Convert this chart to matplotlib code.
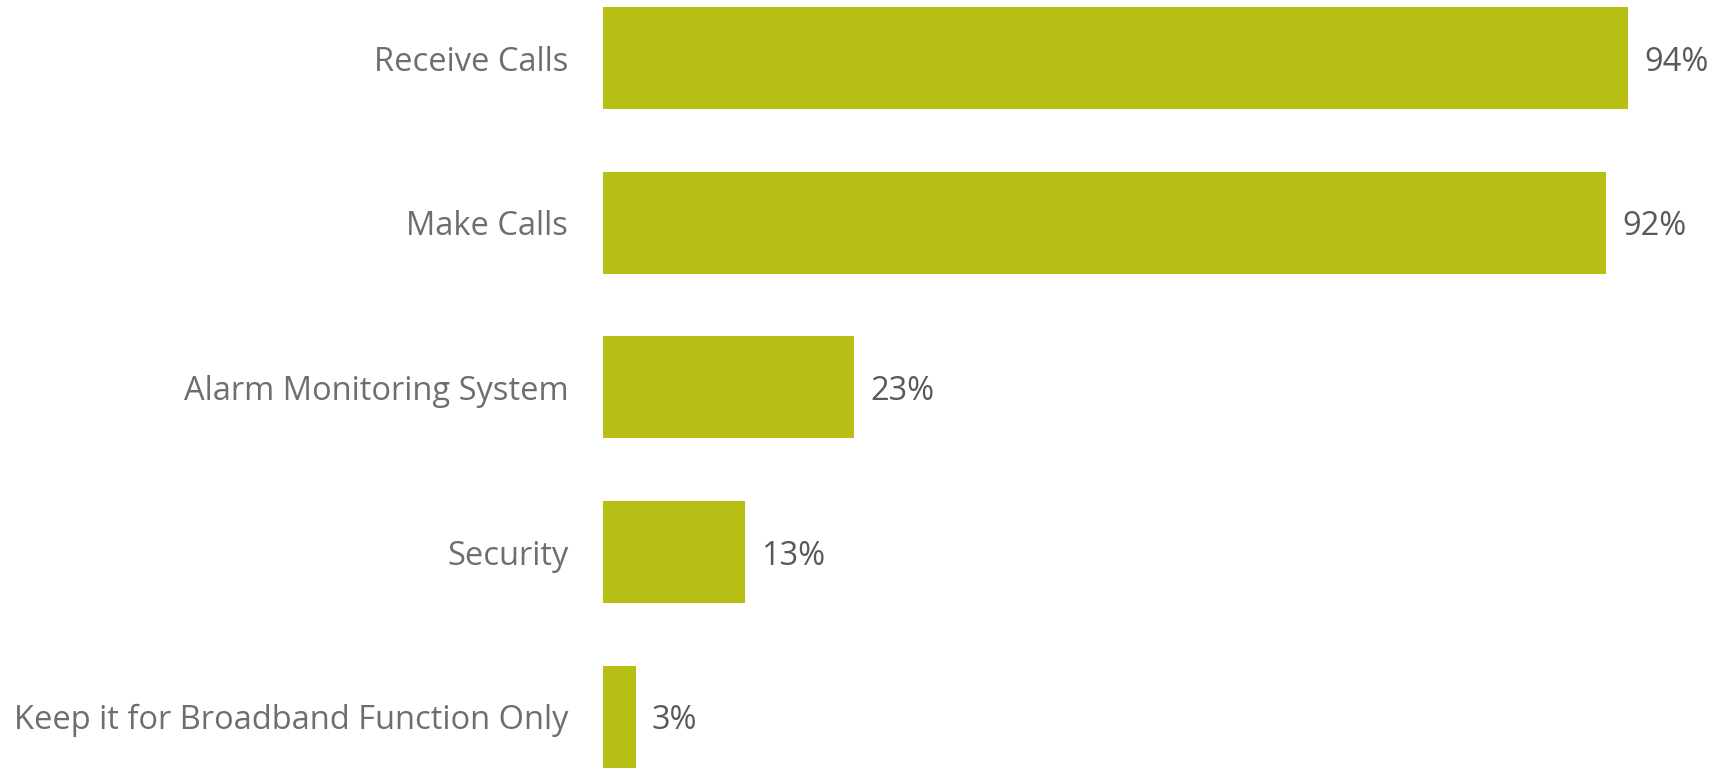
import matplotlib.pyplot as plt
from matplotlib.transforms import ScaledTranslation

categories = ['Receive Calls', 'Make Calls', 'Alarm Monitoring System',
              'Security', 'Keep it for Broadband Function Only']
shares = [94, 92, 23, 13, 3]

plt.rcParams['font.family'] = 'Open Sans'

fig = plt.figure(figsize=(17.16, 7.69), dpi=100)
ax = fig.add_axes([603 / 1716, 0, 1 - 603 / 1716, 1])

pos = list(range(len(categories)))
ax.barh(pos, shares, height=0.62, color='#B7BF14')

# nudge text a little below the bar centre
shift = ScaledTranslation(0, -0.04, fig.dpi_scale_trans)

for y, v in zip(pos, shares):
    ax.text(v + 1.5, y, f'{v}%', va='center', ha='left',
            fontsize=23.5, color='#595959', transform=ax.transData + shift)

ax.set_yticks(pos)
ax.set_yticklabels(categories, fontsize=23.5, color='#6E6E6E')
for lbl in ax.get_yticklabels():
    lbl.set_transform(lbl.get_transform() + shift)
ax.tick_params(axis='y', length=0, pad=25)
ax.set_xticks([])
ax.set_xlim(0, 102.1)
ax.set_ylim(4.318, -0.354)
for s in ax.spines.values():
    s.set_visible(False)

fig.savefig('out.png', dpi=100)
